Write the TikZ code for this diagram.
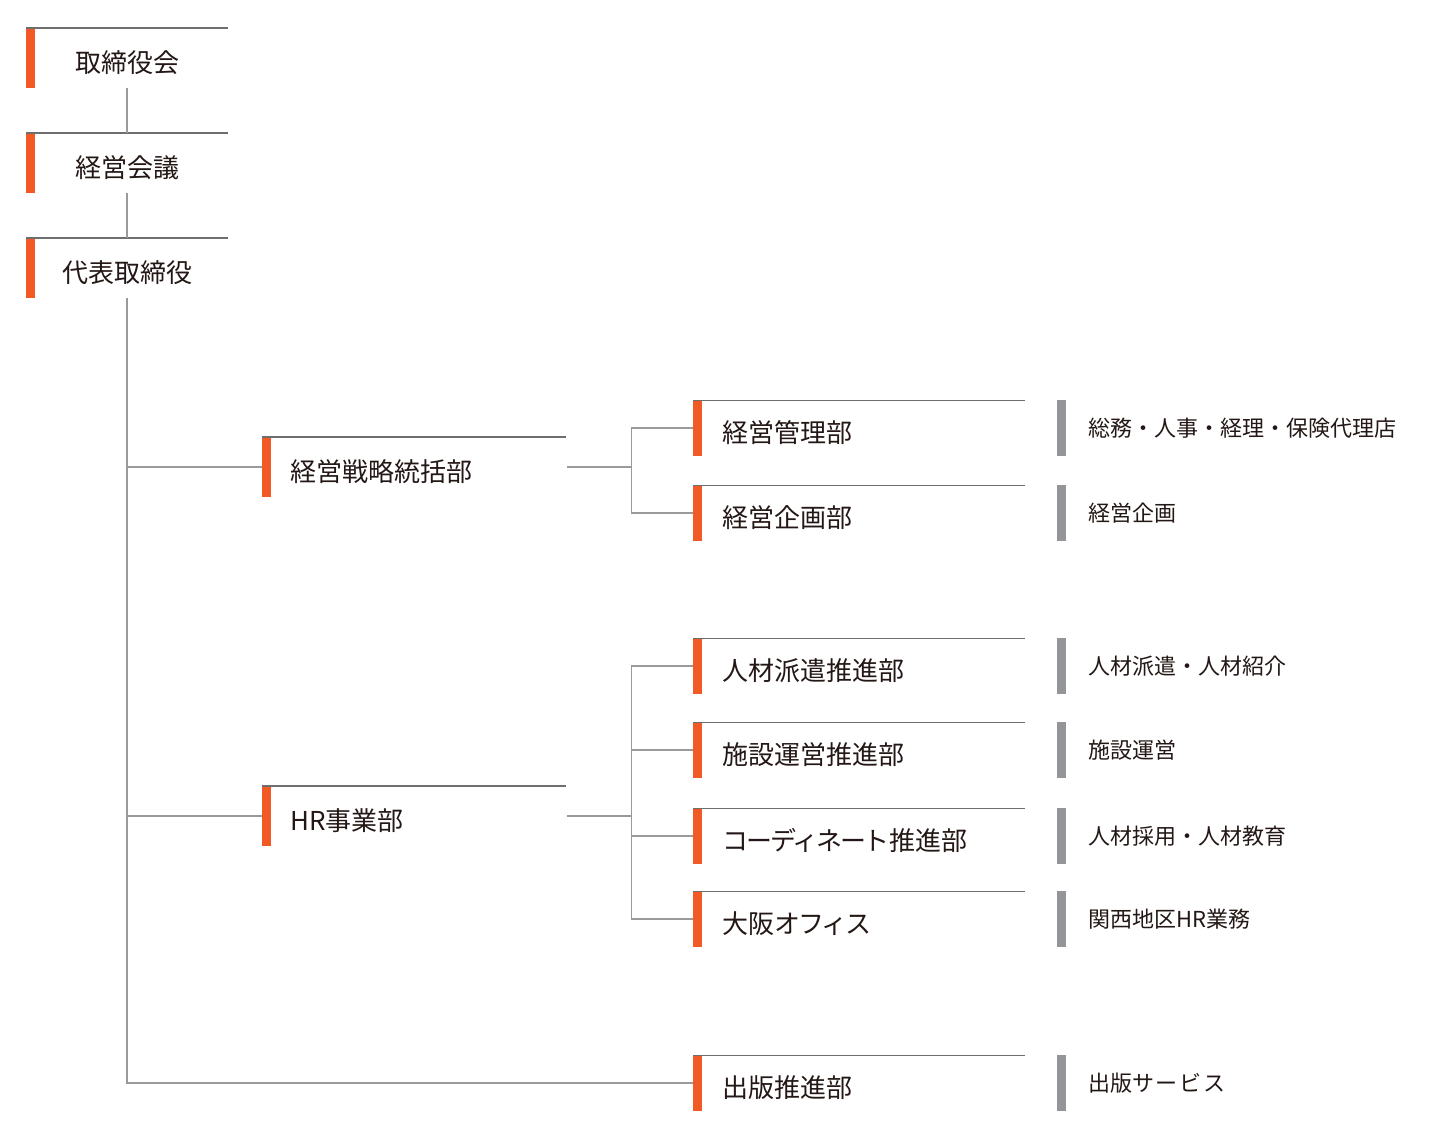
\documentclass[tikz,border=0pt]{standalone}
\usepackage{fontspec}
\setmainfont{Noto Sans CJK JP}
\definecolor{accent}{HTML}{F15A24}
\definecolor{barg}{HTML}{939598}
\definecolor{topl}{HTML}{6E6E6E}
\definecolor{conn}{HTML}{9A9A9A}
\definecolor{ink}{HTML}{231815}
\newcommand{\kn}[1]{{\addfontfeature{LetterSpace=-8}#1}}
\newcommand{\kw}[1]{{\addfontfeature{LetterSpace=8}#1}}
\begin{document}
\begin{tikzpicture}[x=1pt,y=-1pt,
  bigfont/.style={font=\fontsize{26}{30}\selectfont, text=ink, text height=28pt, text depth=0pt},
  smallfont/.style={font=\fontsize{22}{26}\selectfont, text=ink, text height=18pt, text depth=0.4pt},
  topbox/.style={anchor=west, inner sep=0pt, minimum width=202pt, minimum height=60pt, text width=202pt, align=center, bigfont},
  midbox/.style={anchor=west, inner sep=0pt, minimum width=304pt, minimum height=60pt, text width=248pt, align=left, bigfont},
  subbox/.style={anchor=west, inner sep=0pt, minimum width=332pt, minimum height=55pt, text width=274pt, align=left, bigfont},
  descbox/.style={anchor=west, inner sep=0pt, minimum width=400pt, minimum height=55pt, text width=338pt, align=left, smallfont},
  topline/.style={draw=topl, line width=1.6pt},
  connector/.style={draw=conn, line width=1.6pt}]
\fill[white] (0,0) rectangle (1440,1135);
\useasboundingbox (0,0) rectangle (1440,1135);

% top chain
\node[topbox] (t1) at (26,58) {取締役会};
\node[topbox] (t2) at (26,163) {経営会議};
\node[topbox] (t3) at (26,268) {代表取締役};

% second level
\node[midbox] (s) at (262,467) {経営戦略統括部};
\node[midbox] (h) at (262,816) {HR事業部};

% third level
\node[subbox] (m1) at (693,428) {経営管理部};
\node[subbox] (m2) at (693,513) {経営企画部};
\node[subbox] (r1) at (693,666) {人材派遣推進部};
\node[subbox] (r2) at (693,750) {施設運営推進部};
\node[subbox] (r3) at (693,836) {\kn{コーディネート}推進部};
\node[subbox] (r4) at (693,919) {大阪\kn{オフィス}};
\node[subbox] (p) at (693,1083) {出版推進部};

% descriptions
\node[descbox] (g1) at (1057,428) {総務・人事・経理・保険代理店};
\node[descbox] (g2) at (1057,513) {経営企画};
\node[descbox] (g3) at (1057,666) {人材派遣・人材紹介};
\node[descbox] (g4) at (1057,750) {施設運営};
\node[descbox] (g5) at (1057,836) {人材採用・人材教育};
\node[descbox] (g6) at (1057,919) {関西地区HR業務};
\node[descbox] (g7) at (1057,1083) {出版\kw{サービス}};

% bars and top lines
\foreach \n in {t1,t2,t3,s,h,m1,m2,r1,r2,r3,r4,p}{
  \fill[accent] (\n.north west) rectangle ([xshift=9pt]\n.south west);
  \draw[topline] (\n.north west) -- (\n.north east);
}
\foreach \n in {g1,g2,g3,g4,g5,g6,g7}{
  \fill[barg] (\n.north west) rectangle ([xshift=9pt]\n.south west);
}

% connectors
\draw[connector] (t1.south) -- (t2.north);
\draw[connector] (t2.south) -- (t3.north);
\draw[connector] (t3.south) |- (p.west);
\draw[connector] (t3.south |- s.west) -- (s.west);
\draw[connector] (t3.south |- h.west) -- (h.west);

\coordinate (sj) at ([xshift=65pt]s.east);
\draw[connector] ([xshift=1pt]s.east) -- (sj);
\draw[connector] (m1.west) -| (sj) |- (m2.west);

\coordinate (hj) at ([xshift=65pt]h.east);
\draw[connector] ([xshift=1pt]h.east) -- (hj);
\draw[connector] (r1.west) -| (hj) |- (r4.west);
\draw[connector] (hj |- r2.west) -- (r2.west);
\draw[connector] (hj |- r3.west) -- (r3.west);
\end{tikzpicture}
\end{document}
